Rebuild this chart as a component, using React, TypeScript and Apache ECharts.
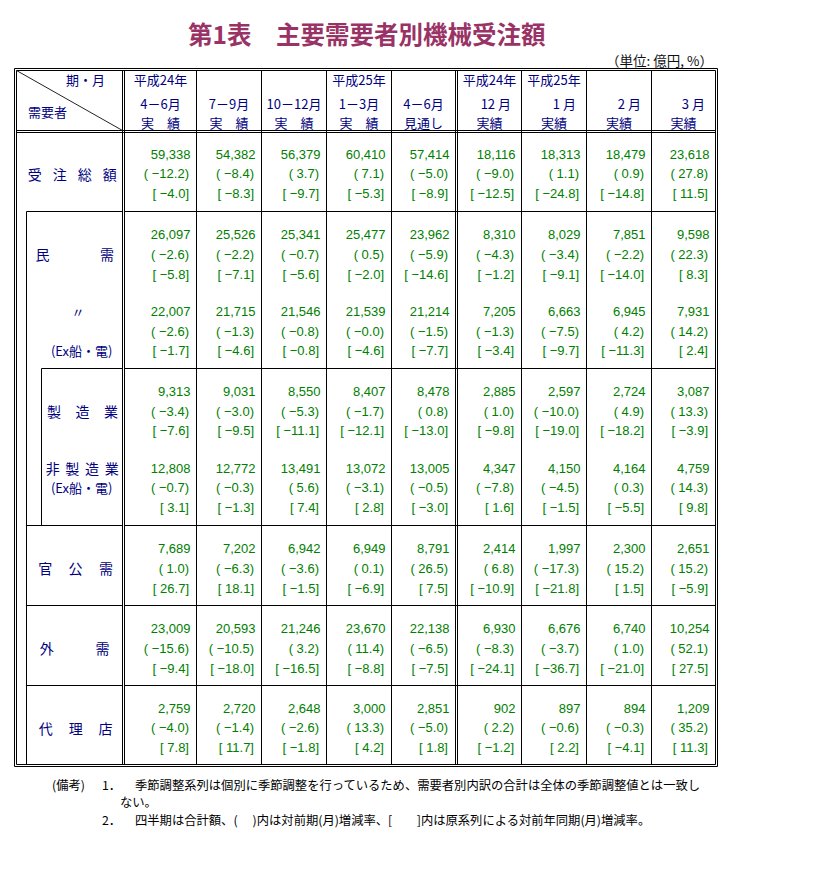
import React, { useEffect, useRef } from "react";
import * as echarts from "echarts";

// ---------- texts ----------
const titleText = "第1表　主要需要者別機械受注額";
const unitText = "（単位: 億円, %）";

const headerYear = ["平成24年", "", "", "平成25年", "", "平成24年", "平成25年", "", ""];
const headerPeriod = ["4－6月", "7－9月", "10－12月", "1－3月", "4－6月", "12 月", "1 月", "2 月", "3 月"];
const headerKind = ["実　績", "実　績", "実　績", "実　績", "見通し", "実績", "実績", "実績", "実績"];

const noteLabel = "(備考)";
const note1No = "1．";
const note1a = "季節調整系列は個別に季節調整を行っているため、需要者別内訳の合計は全体の季節調整値とは一致し";
const note1b = "ない。";
const note2No = "2．";
const note2 = "四半期は合計額、(　 )内は対前期(月)増減率、[　　]内は原系列による対前年同期(月)増減率。";

// ---------- data ----------
const totalAmount = [59338, 54382, 56379, 60410, 57414, 18116, 18313, 18479, 23618];
const totalQoQ = [-12.2, -8.4, 3.7, 7.1, -5.0, -9.0, 1.1, 0.9, 27.8];
const totalYoY = [-4.0, -8.3, -9.7, -5.3, -8.9, -12.5, -24.8, -14.8, 11.5];

const privateAmount = [26097, 25526, 25341, 25477, 23962, 8310, 8029, 7851, 9598];
const privateQoQ = [-2.6, -2.2, -0.7, 0.5, -5.9, -4.3, -3.4, -2.2, 22.3];
const privateYoY = [-5.8, -7.1, -5.6, -2.0, -14.6, -1.2, -9.1, -14.0, 8.3];

const privateExAmount = [22007, 21715, 21546, 21539, 21214, 7205, 6663, 6945, 7931];
const privateExQoQ = [-2.6, -1.3, -0.8, -0, -1.5, -1.3, -7.5, 4.2, 14.2];
const privateExYoY = [-1.7, -4.6, -0.8, -4.6, -7.7, -3.4, -9.7, -11.3, 2.4];

const mfgAmount = [9313, 9031, 8550, 8407, 8478, 2885, 2597, 2724, 3087];
const mfgQoQ = [-3.4, -3.0, -5.3, -1.7, 0.8, 1.0, -10.0, 4.9, 13.3];
const mfgYoY = [-7.6, -9.5, -11.1, -12.1, -13.0, -9.8, -19.0, -18.2, -3.9];

const nonMfgAmount = [12808, 12772, 13491, 13072, 13005, 4347, 4150, 4164, 4759];
const nonMfgQoQ = [-0.7, -0.3, 5.6, -3.1, -0.5, -7.8, -4.5, 0.3, 14.3];
const nonMfgYoY = [3.1, -1.3, 7.4, 2.8, -3.0, 1.6, -1.5, -5.5, 9.8];

const govAmount = [7689, 7202, 6942, 6949, 8791, 2414, 1997, 2300, 2651];
const govQoQ = [1.0, -6.3, -3.6, 0.1, 26.5, 6.8, -17.3, 15.2, 15.2];
const govYoY = [26.7, 18.1, -1.5, -6.9, 7.5, -10.9, -21.8, 1.5, -5.9];

const foreignAmount = [23009, 20593, 21246, 23670, 22138, 6930, 6676, 6740, 10254];
const foreignQoQ = [-15.6, -10.5, 3.2, 11.4, -6.5, -8.3, -3.7, 1.0, 52.1];
const foreignYoY = [-9.4, -18.0, -16.5, -8.8, -7.5, -24.1, -36.7, -21.0, 27.5];

const agentAmount = [2759, 2720, 2648, 3000, 2851, 902, 897, 894, 1209];
const agentQoQ = [-4.0, -1.4, -2.6, 13.3, -5.0, 2.2, -0.6, -0.3, 35.2];
const agentYoY = [7.8, 11.7, -1.8, 4.2, 1.8, -1.2, 2.2, -4.1, 11.3];

const blocks = [
  { amount: totalAmount, qoq: totalQoQ, yoy: totalYoY },
  { amount: privateAmount, qoq: privateQoQ, yoy: privateYoY },
  { amount: privateExAmount, qoq: privateExQoQ, yoy: privateExYoY },
  { amount: mfgAmount, qoq: mfgQoQ, yoy: mfgYoY },
  { amount: nonMfgAmount, qoq: nonMfgQoQ, yoy: nonMfgYoY },
  { amount: govAmount, qoq: govQoQ, yoy: govYoY },
  { amount: foreignAmount, qoq: foreignQoQ, yoy: foreignYoY },
  { amount: agentAmount, qoq: agentQoQ, yoy: agentYoY },
];

// ---------- layout (styles / positions) ----------
const NAVY = "#000080";
const GREEN = "#008000";
const CJK = '"Noto Sans CJK JP", "Noto Sans", sans-serif';
const NUM = '"Liberation Sans", "Noto Sans CJK JP", sans-serif';

const colLeft = [124, 196, 261, 326, 391, 457, 521, 586, 651];
const colRight = [196, 261, 326, 391, 455, 521, 586, 651, 715];
const blockMidY = [173.7, 254.3, 331, 411, 487.7, 568.3, 648.3, 727.7];
const LINE_GAP = 19.7;

const fmtAmount = (v: number) => v.toLocaleString("en-US");
const fmtPct = (v: number) => {
  const neg = v < 0 || Object.is(v, -0);
  return (neg ? "−" : "") + Math.abs(v).toFixed(1);
};

function buildElements() {
  const els: any[] = [];
  const ln = (x1: number, y1: number, x2: number, y2: number, stroke = "#000") =>
    els.push({ type: "line", silent: true, shape: { x1, y1, x2, y2 }, style: { stroke, lineWidth: 1 } });
  const tx = (
    x: number,
    y: number,
    text: string,
    o: { size?: number; color?: string; family?: string; weight?: string; align?: string; v?: string } = {}
  ) =>
    els.push({
      type: "text",
      silent: true,
      x,
      y,
      style: {
        text,
        fill: o.color || "#000",
        fontSize: o.size || 13,
        fontFamily: o.family || CJK,
        fontWeight: o.weight || "normal",
        align: o.align || "left",
        textAlign: o.align || "left",
        verticalAlign: o.v || "middle",
        textVerticalAlign: o.v || "middle",
      },
    });

  // title & unit
  tx(188, 33, titleText, { size: 24.5, weight: "bold", color: "#993366" });
  tx(713, 59.5, unitText, { size: 13.5, color: "#111", align: "right" });

  // ---- borders ----
  const P = (p: number) => p + 0.5;
  ln(P(14), P(68), P(717), P(68));
  ln(P(14), P(766), P(717), P(766));
  ln(P(14), P(68), P(14), P(766));
  ln(P(717), P(68), P(717), P(766));
  ln(P(16), P(70), P(715), P(70));
  ln(P(16), P(764), P(715), P(764));
  ln(P(16), P(70), P(16), P(764));
  ln(P(715), P(70), P(715), P(764));
  ln(P(16), P(130), P(715), P(130));
  ln(P(16), P(132), P(715), P(132));
  [122, 124, 455, 457].forEach((x) => ln(P(x), P(70), P(x), P(764)));
  [196, 261, 326, 391, 521, 586, 651].forEach((x) => ln(P(x), P(70), P(x), P(764)));
  const hsep = (y: number, x0: number) => {
    ln(P(x0), P(y), P(122), P(y));
    ln(P(124), P(y), P(715), P(y));
  };
  hsep(211, 26);
  hsep(368, 41);
  hsep(525, 26);
  hsep(605, 26);
  hsep(685, 26);
  ln(P(26), P(211), P(26), P(764));
  ln(P(41), P(368), P(41), P(525));
  ln(P(16), P(70), P(122), P(130), "#222");

  // ---- header texts ----
  tx(105, 79, "期・月", { color: NAVY, align: "right" });
  tx(28, 111, "需要者", { color: NAVY });
  for (let c = 0; c < 9; c++) {
    const cx = (colLeft[c] + colRight[c]) / 2 + 0.5;
    if (headerYear[c]) tx(cx, 79, headerYear[c], { color: NAVY, align: "center" });
    if (c < 5) tx(cx, 103, headerPeriod[c], { color: NAVY, align: "center" });
    else tx(colRight[c] - 10, 103, headerPeriod[c], { color: NAVY, align: "right" });
    tx(cx, 122.5, headerKind[c], { color: NAVY, align: "center" });
  }

  // ---- row labels (distributed characters) ----
  const spread = (label: string, x0: number, x1: number, y: number) => {
    const chars = Array.from(label);
    const n = chars.length;
    chars.forEach((ch, i) => {
      const x = n === 1 ? x0 : x0 + ((x1 - x0) * i) / (n - 1);
      tx(x, y, ch, { size: 14, color: NAVY, align: "center" });
    });
  };
  spread("受注総額", 34.7, 109.7, blockMidY[0]);
  spread("民需", 42.5, 107, blockMidY[1]);
  tx(78, blockMidY[2] - LINE_GAP, "〃", { size: 13, color: NAVY, align: "center" });
  tx(81.7, blockMidY[2] + LINE_GAP, "(Ex船・電)", { size: 13, color: NAVY, align: "center" });
  spread("製造業", 54, 111, blockMidY[3]);
  spread("非製造業", 52.7, 111.7, blockMidY[4] - LINE_GAP);
  tx(81.7, blockMidY[4], "(Ex船・電)", { size: 13, color: NAVY, align: "center" });
  spread("官公需", 45.2, 106, blockMidY[5]);
  spread("外需", 46.7, 102.5, blockMidY[6]);
  spread("代理店", 45.8, 105.5, blockMidY[7]);

  // ---- data cells ----
  blocks.forEach((b, bi) => {
    const ym = blockMidY[bi];
    for (let c = 0; c < 9; c++) {
      const xr = colRight[c];
      tx(xr - 5.5, ym - LINE_GAP, fmtAmount(b.amount[c]), { size: 13, color: GREEN, family: NUM, align: "right" });
      tx(xr - 7, ym, "( " + fmtPct(b.qoq[c]) + ")", { size: 13, color: GREEN, family: NUM, align: "right" });
      tx(xr - 7, ym + LINE_GAP, "[ " + fmtPct(b.yoy[c]) + "]", { size: 13, color: GREEN, family: NUM, align: "right" });
    }
  });

  // ---- notes ----
  tx(52, 785, noteLabel, { size: 12.3 });
  tx(102, 785, note1No, { size: 12.3 });
  tx(135, 785, note1a, { size: 12.3 });
  tx(120, 802, note1b, { size: 12.3 });
  tx(102, 820, note2No, { size: 12.3 });
  tx(135, 820, note2, { size: 12.3 });

  return els;
}

export default function App() {
  const ref = useRef<HTMLDivElement>(null);
  useEffect(() => {
    if (!ref.current) return;
    const chart = echarts.init(ref.current, undefined, { renderer: "svg" });
    chart.setOption({
      animation: false,
      backgroundColor: "#fff",
      graphic: { elements: buildElements() },
    });
    return () => chart.dispose();
  }, []);
  return (
    <div
      ref={ref}
      style={{ position: "absolute", left: 0, top: 0, width: 817, height: 887, background: "#fff" }}
    />
  );
}
